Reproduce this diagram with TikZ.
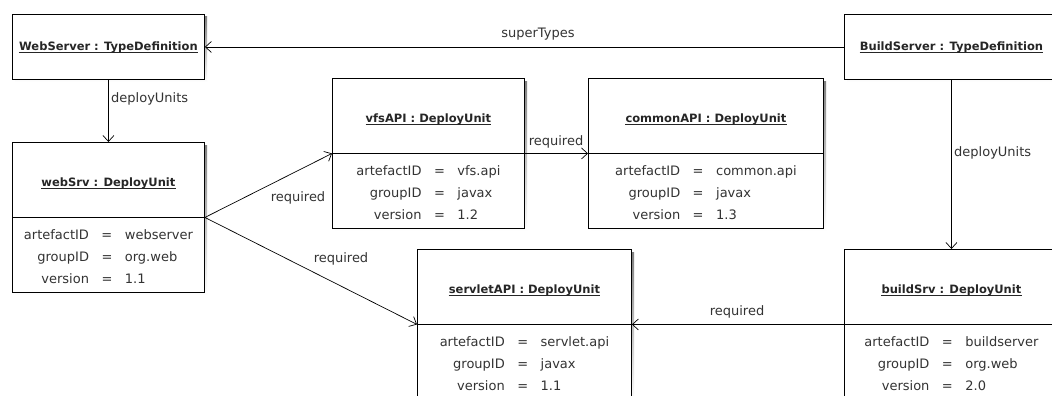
\documentclass[tikz,border=0pt]{standalone}
\usepackage{fontspec}
\setmainfont{DejaVu Sans}
\usetikzlibrary{arrows.meta,calc}
\definecolor{txt}{HTML}{333333}
\definecolor{shade}{HTML}{BDBDBD}
\newcommand\umlbox[5]{%
  \fill[shade] (#2+3,#3+3) rectangle ++(#4,#5);
  \node[box,minimum width=#4pt,minimum height=#5pt] (#1) at (#2,#3) {};}
\newcommand\utitle[3]{%
  \node[ttl] (#1) at #2 {#3};
  \draw[line width=0.6pt,black!85] ([yshift=-1.8pt]#1.base west) -- ([yshift=-1.8pt]#1.base east);}
\newcommand\attrs[5]{%
  \draw[line width=0.9pt] (#2.west) -- (#2.east);
  \node[attr] (#1) at ($(#2.center)+(0,40)$) {\begin{tabular}{@{}r@{\hspace{12.5pt}}c@{\hspace{12.5pt}}l@{}}artefactID&=&#3\\groupID&=&#4\\version&=&#5\end{tabular}};}
\begin{document}
\begin{tikzpicture}[x=1pt,y=-1pt,
  box/.style={draw=black,line width=0.9pt,fill=white,inner sep=0pt,anchor=north west},
  ttl/.style={font=\fontsize{11.5}{13}\selectfont\bfseries,text=black!85,inner sep=0pt},
  attr/.style={font=\fontsize{13}{22}\selectfont,text=txt,inner sep=0pt},
  lbl/.style={font=\fontsize{13}{15}\selectfont,text=txt,inner sep=0pt},
  conn/.style={line width=0.7pt,-{Straight Barb[length=6pt,width=11pt,line width=0.7pt]}}
]
\useasboundingbox[fill=white] (0,0) rectangle (1052,396);
% boxes
\umlbox{WS}{12}{14}{192}{65}
\umlbox{BS}{844}{14}{214}{65}
\umlbox{ws}{12}{142}{192}{150}
\umlbox{vfs}{332}{78}{192}{150}
\umlbox{com}{588}{78}{235}{150}
\umlbox{srv}{417}{249}{214}{150}
\umlbox{bs}{844}{249}{214}{150}
% titles
\utitle{WSt}{(WS.center)}{WebServer : TypeDefinition}
\utitle{BSt}{(BS.center)}{BuildServer : TypeDefinition}
\utitle{wst}{($(ws.north)!0.5!(ws.center)+(0,4)$)}{webSrv : DeployUnit}
\utitle{vfst}{($(vfs.north)!0.5!(vfs.center)+(0,4)$)}{vfsAPI : DeployUnit}
\utitle{comt}{($(com.north)!0.5!(com.center)+(0,4)$)}{commonAPI : DeployUnit}
\utitle{srvt}{($(srv.north)!0.5!(srv.center)+(0,4)$)}{servletAPI : DeployUnit}
\utitle{bst}{($(bs.north)!0.5!(bs.center)+(0,4)$)}{buildSrv : DeployUnit}
% attributes
\attrs{wsa}{ws}{webserver}{org.web}{1.1}
\attrs{vfsa}{vfs}{vfs.api}{javax}{1.2}
\attrs{coma}{com}{common.api}{javax}{1.3}
\attrs{srva}{srv}{servlet.api}{javax}{1.1}
\attrs{bsa}{bs}{buildserver}{org.web}{2.0}
% connectors
\draw[conn] (BS.west) -- (WS.east);
\draw[conn] (WS.south) -- (ws.north);
\draw[conn] (BS.south) -- (bs.north);
\draw[conn] (ws.east) -- (vfs.west);
\draw[conn] (ws.east) -- (srv.west);
\draw[conn] (vfs.east) -- (com.west);
\draw[conn] (bs.west) -- (srv.east);
% labels
\node[lbl] (l1) at (538,34) {superTypes};
\node[lbl,anchor=west] (l2) at (111,99) {deployUnits};
\node[lbl,anchor=west] (l3) at (954,153) {deployUnits};
\node[lbl] (l4) at (298,198) {required};
\node[lbl] (l5) at (341,259) {required};
\node[lbl] (l6) at (556,142) {required};
\node[lbl] (l7) at (737,312) {required};
\end{tikzpicture}
\end{document}
